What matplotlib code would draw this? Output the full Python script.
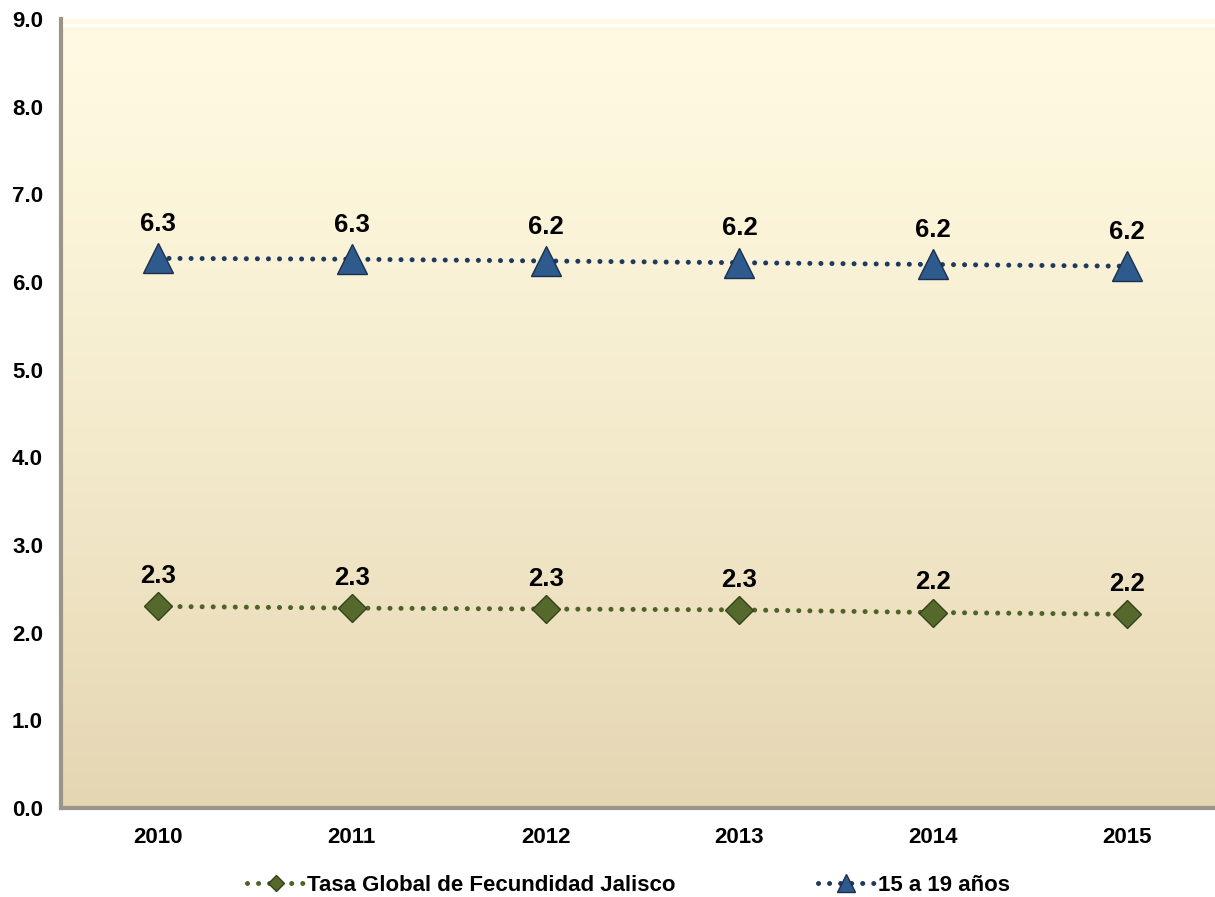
import numpy as np
import matplotlib.pyplot as plt

years = ['2010', '2011', '2012', '2013', '2014', '2015']
tgf_jalisco = [2.30, 2.28, 2.27, 2.26, 2.23, 2.21]
edad_15_19 = [6.27, 6.26, 6.24, 6.22, 6.20, 6.18]
label_tgf = 'Tasa Global de Fecundidad Jalisco'
label_1519 = '15 a 19 años'

plt.rcParams['font.family'] = ['Liberation Sans', 'DejaVu Sans']
plt.rcParams['font.weight'] = 'bold'

fig = plt.figure(figsize=(12.15, 8.97), dpi=100)
ax = fig.add_axes([61/1215, 1-808/897, 1-61/1215, (808-19)/897])

x = np.arange(len(years))
ax.set_xlim(-0.5, 5.5 - 9/194)
ax.set_ylim(0, 9)

# fondo degradado
grad = np.linspace(0, 1, 256).reshape(-1, 1) ** 1.3
top = np.array([255, 250, 225]) / 255
bot = np.array([229, 214, 178]) / 255
img = top * (1 - grad[..., None]) + bot * grad[..., None]
img = np.repeat(img, 2, axis=1)
ax.imshow(img, extent=[-0.5, 5.5, 0, 9], aspect='auto', zorder=0)
ax.axhline(8.93, color='white', lw=2.5, zorder=1)

ax.plot(x, edad_15_19, color='#1F3A5F', lw=3.6, linestyle=(0, (0.01, 2.2)),
        dash_capstyle='round', marker='^', ms=21, mfc='#2F5A8E', mec='#1B2F4C',
        mew=1, label=label_1519, zorder=3)
ax.plot(x, tgf_jalisco, color='#4F6228', lw=3.6, linestyle=(0, (0.01, 2.2)),
        dash_capstyle='round', marker='D', ms=14, mfc='#55692D', mec='#34421A',
        mew=1, label=label_tgf, zorder=3)

for xi, v in zip(x, edad_15_19):
    ax.annotate(f'{v:.1f}', (xi, v), xytext=(0, 16), textcoords='offset points',
                ha='center', va='bottom', fontsize=18.5, fontweight='bold')
for xi, v in zip(x, tgf_jalisco):
    ax.annotate(f'{v:.1f}', (xi, v), xytext=(0, 13), textcoords='offset points',
                ha='center', va='bottom', fontsize=18.5, fontweight='bold')

ax.set_xticks(x)
ax.set_xticklabels(years)
ax.set_yticks(np.arange(0, 10, 1))
ax.set_yticklabels([f'{v:.1f}' for v in np.arange(0, 10, 1)])
ax.tick_params(axis='y', length=0, pad=13, labelsize=16)
ax.tick_params(axis='x', length=0, pad=14, labelsize=16)

for s in ['top', 'right']:
    ax.spines[s].set_visible(False)
for s in ['left', 'bottom']:
    ax.spines[s].set_color('#9A958A')
    ax.spines[s].set_linewidth(3)

h, l = ax.get_legend_handles_labels()
fig.legend(h[::-1], l[::-1], loc='lower center', bbox_to_anchor=(0.517, -0.021),
           ncol=2, frameon=False, fontsize=16, handlelength=2.6,
           handletextpad=0.1, columnspacing=6.4, markerscale=0.6)

plt.savefig('out.png', dpi=100)
